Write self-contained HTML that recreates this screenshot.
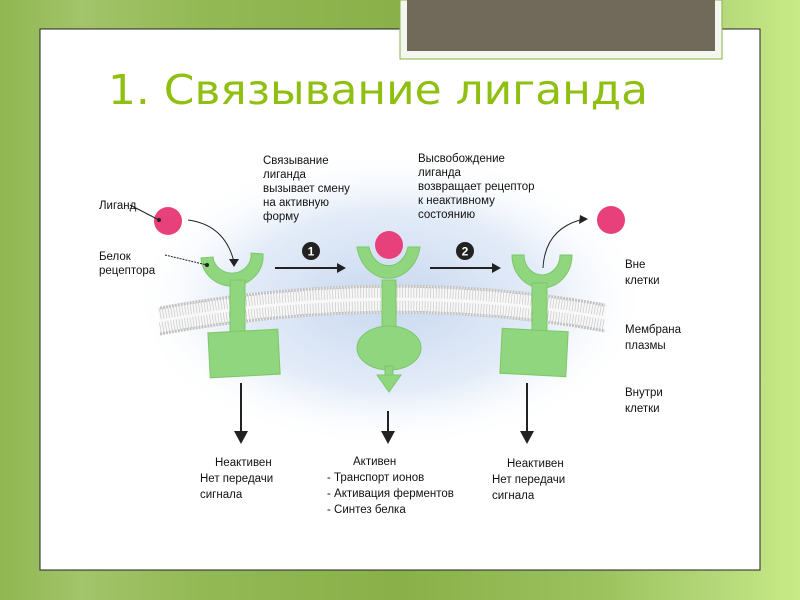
<!DOCTYPE html>
<html><head><meta charset="utf-8"><style>
html,body{margin:0;padding:0;width:800px;height:600px;overflow:hidden}
body{background:linear-gradient(90deg,#8fb650 0%,#a3c46a 10%,#93b955 25%,#8ab04a 50%,#9cc25e 75%,#b5d97a 90%,#c9ea86 100%);position:relative;font-family:"Liberation Sans",sans-serif}
</style></head><body>
<svg width="800" height="600" style="position:absolute;left:0;top:0" font-family="Liberation Sans, DejaVu Sans, sans-serif">
<defs>
<radialGradient id="glow" cx="0.5" cy="0.5" r="0.5">
<stop offset="0" stop-color="#c9d8f0"/><stop offset="0.6" stop-color="#e3ecf8"/><stop offset="1" stop-color="#ffffff" stop-opacity="0"/>
</radialGradient>
</defs>
<rect x="40" y="29" width="720" height="541" fill="#fff" stroke="#222" stroke-width="1"/>
<rect x="400" y="0" width="322" height="59" fill="#f4f7ee" stroke="#8ab04a"/>
<rect x="407" y="0" width="308" height="51" fill="#71695a"/>
<text x="108" y="104" font-size="41" fill="#8fbf10" font-family="DejaVu Sans, sans-serif" textLength="540" lengthAdjust="spacingAndGlyphs">1. Связывание лиганда</text>
<ellipse cx="390" cy="300" rx="260" ry="150" fill="url(#glow)"/>
<g fill="none">
<path d="M160,321 Q390,279 605,318" stroke="#f8f8f8" stroke-width="28"/>
<path d="M160,314 Q390,272 605,311" stroke="#cdcdcd" stroke-width="11" stroke-dasharray="0.8,2"/>
<path d="M160,328 Q390,286 605,325" stroke="#cdcdcd" stroke-width="11" stroke-dasharray="0.8,2"/>
<path d="M160,308 Q390,266 605,305" stroke="#c2c2c2" stroke-width="3" stroke-dasharray="2,1"/>
<path d="M160,334 Q390,292 605,331" stroke="#c2c2c2" stroke-width="3" stroke-dasharray="2,1"/>
</g>
<g fill="#8fd67e" stroke="#7cc76a" stroke-width="1">
<path d="M201,258 A31,30 0 0 0 263,254 L251,253 A19,18 0 0 1 213,257 Z"/>
<rect x="230" y="280" width="15" height="58"/>
<rect x="209" y="331" width="70" height="45" transform="rotate(-3 244 353)"/>
<path d="M357,247 A32,38 0 0 0 420,247 L408,247 A20,24 0 0 1 369,247 Z"/>
<rect x="382" y="280" width="14" height="50"/>
<ellipse cx="389" cy="348" rx="32" ry="22"/>
<rect x="385" y="366" width="8" height="12"/>
<path d="M377,375 L401,375 L389,392 Z"/>
<path d="M512,255 A30,33 0 0 0 572,255 L560,255 A18,20 0 0 1 524,255 Z"/>
<rect x="532" y="283" width="15" height="55"/>
<rect x="501" y="330" width="66" height="45" transform="rotate(3 534 353)"/>
</g>
<circle cx="168" cy="221" r="14" fill="#e8407a"/>
<circle cx="389" cy="245" r="14" fill="#e8407a"/>
<circle cx="611" cy="220" r="14" fill="#e8407a"/>
<circle cx="159" cy="220" r="2" fill="#222"/>
<circle cx="207" cy="265" r="2" fill="#222"/>
<g stroke="#222" stroke-width="1" fill="none">
<path d="M130,205 L159,220"/>
<path d="M165,255 L207,265" stroke-dasharray="2,1"/>
<path d="M188,220 Q225,225 234,262"/>
<path d="M543,268 Q545,230 580,220"/>
</g>
<path d="M229,259 L234,267 L239,259 Z" fill="#222"/>
<path d="M580,215 L588,219 L579,224 Z" fill="#222"/>
<g stroke="#222" stroke-width="2">
<line x1="275" y1="268" x2="338" y2="268"/>
<line x1="430" y1="268" x2="493" y2="268"/>
<line x1="241" y1="383" x2="241" y2="433"/>
<line x1="388" y1="411" x2="388" y2="433"/>
<line x1="527" y1="383" x2="527" y2="433"/>
</g>
<g fill="#222">
<path d="M337,263 L346,268 L337,273 Z"/>
<path d="M492,263 L501,268 L492,273 Z"/>
<path d="M234,431 L248,431 L241,444 Z"/>
<path d="M381,431 L395,431 L388,444 Z"/>
<path d="M520,431 L534,431 L527,444 Z"/>
<circle cx="311" cy="251" r="9"/><circle cx="465" cy="251" r="9"/>
</g>
<text x="311" y="255.5" font-size="12" font-weight="bold" fill="#fff" text-anchor="middle">1</text>
<text x="465" y="255.5" font-size="12" font-weight="bold" fill="#fff" text-anchor="middle">2</text>
<g font-size="11.5" fill="#111">
<text x="99" y="209">Лиганд</text>
<text x="99" y="260">Белок</text><text x="99" y="274">рецептора</text>
<text x="263" y="164">Связывание</text><text x="263" y="178">лиганда</text><text x="263" y="192">вызывает смену</text><text x="263" y="206">на активную</text><text x="263" y="220">форму</text>
<text x="418" y="162">Высвобождение</text><text x="418" y="176">лиганда</text><text x="418" y="190">возвращает рецептор</text><text x="418" y="204">к неактивному</text><text x="418" y="218">состоянию</text>
<text x="625" y="268">Вне</text><text x="625" y="284">клетки</text>
<text x="625" y="333">Мембрана</text><text x="625" y="349">плазмы</text>
<text x="625" y="396">Внутри</text><text x="625" y="412">клетки</text>
<text x="215" y="466">Неактивен</text><text x="200" y="482">Нет передачи</text><text x="200" y="498">сигнала</text>
<text x="353" y="465">Активен</text><text x="327" y="481">- Транспорт ионов</text><text x="327" y="497">- Активация ферментов</text><text x="327" y="513">- Синтез белка</text>
<text x="507" y="467">Неактивен</text><text x="492" y="483">Нет передачи</text><text x="492" y="499">сигнала</text>
</g>
</svg>
</body></html>
